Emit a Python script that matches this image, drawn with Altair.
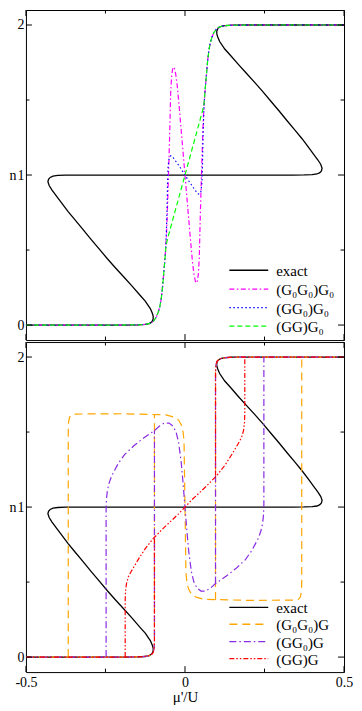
import altair as alt
import pandas as pd

FONT = "Liberation Serif, Times New Roman, serif"
W, H = 319, 331

# ---------------- tick values ----------------
y_major_ticks = [0, 1, 2]
y_minor_ticks = [0.5, 1.5]
x_major_ticks = [-0.5, 0.0, 0.5]
x_minor_ticks = [-0.25, 0.25]
y_labels = [0, 1, 2]
x_labels = [-0.5, 0.0, 0.5]

# ---------------- exact (both panels) ----------------
exact_mu = [-0.5, -0.2, -0.15, -0.125, -0.112, -0.104, -0.1, -0.1, -0.103, -0.109, -0.125,
            -0.142, -0.167, -0.193, -0.219, -0.244, -0.27, -0.296, -0.321, -0.347, -0.368,
            -0.388, -0.404, -0.418, -0.427, -0.431, -0.429, -0.424, -0.415, -0.4, -0.375, -0.34,
            0.34, 0.375, 0.4, 0.415, 0.424, 0.429, 0.431, 0.427, 0.418, 0.404, 0.388, 0.368,
            0.347, 0.321, 0.296, 0.27, 0.244, 0.219, 0.193, 0.167, 0.142, 0.125, 0.109, 0.103,
            0.1, 0.1, 0.104, 0.112, 0.125, 0.15, 0.2, 0.5]
exact_n = [0.0, 0.0, 0.001, 0.004, 0.01, 0.022, 0.04, 0.06, 0.08, 0.11, 0.16,
           0.2, 0.261, 0.322, 0.382, 0.442, 0.508, 0.573, 0.638, 0.704, 0.758,
           0.814, 0.86, 0.9, 0.93, 0.955, 0.972, 0.984, 0.993, 0.997, 0.999, 1.0,
           1.0, 1.001, 1.003, 1.007, 1.016, 1.028, 1.045, 1.07, 1.1, 1.14, 1.186, 1.242,
           1.296, 1.362, 1.427, 1.492, 1.558, 1.618, 1.678, 1.739, 1.8, 1.84, 1.89, 1.92,
           1.94, 1.96, 1.978, 1.99, 1.996, 1.999, 2.0, 2.0]

# ---------------- top panel ----------------
g0g0g0_mu = [-0.5, -0.2, -0.14, -0.12, -0.108, -0.099, -0.091, -0.085, -0.08, -0.075, -0.071,
             -0.067, -0.063, -0.06, -0.057, -0.054, -0.051, -0.048, -0.045, -0.042, -0.039,
             -0.036, -0.033, -0.029, -0.024, -0.018, -0.012, -0.006, 0.0, 0.006, 0.012, 0.018,
             0.024, 0.029, 0.033, 0.036, 0.039, 0.042, 0.045, 0.048, 0.051, 0.054, 0.057, 0.06,
             0.063, 0.067, 0.071, 0.075, 0.08, 0.085, 0.091, 0.099, 0.108, 0.12, 0.14, 0.2, 0.5]
g0g0g0_n = [0.0, 0.0, 0.002, 0.006, 0.013, 0.026, 0.05, 0.08, 0.114, 0.17, 0.245,
            0.34, 0.44, 0.53, 0.66, 0.85, 1.06, 1.28, 1.55, 1.66, 1.705,
            1.72, 1.71, 1.67, 1.59, 1.45, 1.3, 1.15, 1.0, 0.85, 0.7, 0.55,
            0.41, 0.33, 0.29, 0.28, 0.295, 0.34, 0.45, 0.72, 0.94, 1.15, 1.34, 1.47,
            1.56, 1.66, 1.755, 1.83, 1.886, 1.92, 1.95, 1.974, 1.987, 1.994, 1.998, 2.0, 2.0]

gg0g0_mu = [-0.5, -0.2, -0.14, -0.12, -0.108, -0.099, -0.091, -0.085, -0.08, -0.075, -0.071,
            -0.067, -0.063, -0.06, -0.057, -0.055, -0.053, -0.05, -0.045, -0.04, -0.03, -0.015,
            0.0, 0.015, 0.03, 0.04, 0.045, 0.05, 0.053, 0.055, 0.057, 0.06, 0.063, 0.067, 0.071,
            0.075, 0.08, 0.085, 0.091, 0.099, 0.108, 0.12, 0.14, 0.2, 0.5]
gg0g0_n = [0.0, 0.0, 0.002, 0.006, 0.013, 0.026, 0.05, 0.08, 0.114, 0.17, 0.245,
           0.34, 0.44, 0.53, 0.72, 0.93, 1.06, 1.11, 1.128, 1.125, 1.095, 1.05,
           1.0, 0.95, 0.905, 0.875, 0.872, 0.89, 0.94, 1.07, 1.28, 1.47, 1.56, 1.66, 1.755,
           1.83, 1.886, 1.92, 1.95, 1.974, 1.987, 1.994, 1.998, 2.0, 2.0]

ggg0_mu = [-0.5, -0.2, -0.14, -0.12, -0.108, -0.099, -0.091, -0.085, -0.08, -0.075, -0.071,
           -0.067, -0.063, -0.06, -0.056, -0.04, -0.02, 0.0, 0.02, 0.04, 0.056, 0.06, 0.063,
           0.067, 0.071, 0.075, 0.08, 0.085, 0.091, 0.099, 0.108, 0.12, 0.14, 0.2, 0.5]
ggg0_n = [0.0, 0.0, 0.002, 0.006, 0.013, 0.026, 0.05, 0.08, 0.114, 0.17, 0.245,
          0.34, 0.44, 0.52, 0.565, 0.69, 0.845, 1.0, 1.155, 1.31, 1.435, 1.48, 1.56,
          1.66, 1.755, 1.83, 1.886, 1.92, 1.95, 1.974, 1.987, 1.994, 1.998, 2.0, 2.0]

# ---------------- bottom panel ----------------
rise_mu = [-0.5, -0.2, -0.14, -0.12, -0.108, -0.1, -0.097, -0.096]
rise_n = [0.0, 0.0, 0.002, 0.006, 0.013, 0.03, 0.06, 0.1]
top_mu = [0.096, 0.097, 0.1, 0.108, 0.12, 0.14, 0.2, 0.5]
top_n = [1.9, 1.94, 1.97, 1.987, 1.994, 1.998, 2.0, 2.0]

g0g0g_a_mu = rise_mu + [-0.096]
g0g0g_a_n = rise_n + [1.62]
g0g0g_b_mu = [-0.367, -0.367, -0.366, -0.363, -0.357, -0.345, -0.2, -0.06, -0.035, -0.02,
              -0.011, -0.006, -0.003, 0.0, 0.003, 0.006, 0.011, 0.02, 0.035, 0.06, 0.2,
              0.345, 0.357, 0.363, 0.366, 0.367, 0.367]
g0g0g_b_n = [0.0, 1.5, 1.565, 1.598, 1.615, 1.62, 1.622, 1.615, 1.6, 1.58,
             1.545, 1.5, 1.44, 1.0, 0.56, 0.5, 0.455, 0.42, 0.4, 0.385, 0.378,
             0.38, 0.385, 0.402, 0.435, 0.5, 2.0]
g0g0g_c_mu = [0.096] + top_mu
g0g0g_c_n = [0.38] + top_n

gg0g_a_mu = rise_mu + [-0.096]
gg0g_a_n = rise_n + [1.51]
gg0g_b_mu = [-0.248, -0.248, -0.247, -0.244, -0.238, -0.23, -0.21, -0.19, -0.16, -0.13,
             -0.096, -0.08, -0.065, -0.05, -0.038, -0.028, -0.02, -0.012, -0.006, 0.0,
             0.006, 0.012, 0.02, 0.028, 0.038, 0.05, 0.065, 0.08, 0.096, 0.13, 0.16, 0.19,
             0.21, 0.23, 0.238, 0.244, 0.247, 0.248, 0.248]
gg0g_b_n = [0.0, 0.98, 1.05, 1.11, 1.165, 1.21, 1.29, 1.35, 1.41, 1.46,
            1.51, 1.54, 1.56, 1.56, 1.54, 1.5, 1.43, 1.3, 1.16, 1.0,
            0.84, 0.7, 0.57, 0.5, 0.46, 0.44, 0.44, 0.46, 0.49, 0.54, 0.59, 0.65,
            0.71, 0.79, 0.835, 0.89, 0.95, 1.02, 2.0]
gg0g_c_mu = [0.096] + top_mu
gg0g_c_n = [0.49] + top_n

ggg_a_mu = rise_mu + [-0.096]
ggg_a_n = rise_n + [0.79]
ggg_b_mu = [-0.188, -0.188, -0.187, -0.184, -0.178, -0.168, -0.15, -0.126, -0.1, -0.07,
            -0.045, -0.02, 0.0, 0.02, 0.045, 0.07, 0.1, 0.126, 0.15, 0.168, 0.178, 0.184,
            0.187, 0.188, 0.188]
ggg_b_n = [0.0, 0.38, 0.44, 0.49, 0.535, 0.575, 0.64, 0.72, 0.79, 0.855,
           0.905, 0.955, 1.0, 1.045, 1.095, 1.145, 1.21, 1.28, 1.36, 1.425, 1.465, 1.51,
           1.56, 1.62, 2.0]
ggg_c_mu = [0.096] + top_mu
ggg_c_n = [1.21] + top_n

# ---------------- legend labels ----------------
top_labels = ["exact", "(G\u2080G\u2080)G\u2080", "(GG\u2080)G\u2080", "(GG)G\u2080"]
bot_labels = ["exact", "(G\u2080G\u2080)G", "(GG\u2080)G", "(GG)G"]

# ---------------- styles ----------------
BLACK = "#000000"
MAGENTA = "#ff00ff"
BLUE = "#0000ff"
GREEN = "#00ff00"
ORANGE = "#ffa500"
VIOLET = "#8a2be2"
RED = "#ff0000"
D_MAG = [5, 2.5, 1.5, 2.5]
D_BLUE = [1.5, 2.5]
D_GREEN = [5, 3]
D_ORANGE = [8, 5]
D_VIOLET = [7, 3, 1.5, 3]
D_RED = [5, 2, 1.5, 2, 1.5, 2]

xs = alt.Scale(domain=[-0.5, 0.5], nice=False, zero=False)
ys = alt.Scale(domain=[-0.1, 2.1], nice=False, zero=False)

y_axis = alt.Axis(values=y_labels, format="d", ticks=False, domain=False, grid=False,
                  labelFont=FONT, labelFontSize=14, labelColor="black", labelPadding=2,
                  title="n", titleFont=FONT, titleFontSize=14, titleFontWeight="normal",
                  titleColor="black", titleAngle=0, titleAlign="right",
                  titleBaseline="middle", titlePadding=1)
x_axis = alt.Axis(values=x_labels, labelExpr="datum.value == 0 ? '0' : '' + datum.value",
                  ticks=False, domain=False, grid=False, labelFlush=False,
                  labelFont=FONT, labelFontSize=14, labelColor="black", labelPadding=3,
                  title="\u03bc'/U", titleFont=FONT, titleFontSize=15,
                  titleFontWeight="normal", titleColor="black", titlePadding=0)


def curve(mu, n, color, dash, width, xaxis, yaxis):
    kw = dict(color=color, strokeWidth=width, clip=True)
    if dash:
        kw["strokeDash"] = dash
    df = pd.DataFrame({"mu": mu, "n": n, "i": list(range(len(mu)))})
    return alt.Chart(df).mark_line(**kw).encode(
        x=alt.X("mu:Q", scale=xs, axis=xaxis, title="\u03bc'/U"),
        y=alt.Y("n:Q", scale=ys, axis=yaxis, title="n"),
        order="i:Q",
    )


def ticks(xaxis, yaxis):
    layers = []
    for vals, L in ((y_major_ticks, 6), (y_minor_ticks, 3.5)):
        df = pd.DataFrame({"n": vals})
        for x1, x2 in ((0, L), (W, W - L)):
            layers.append(alt.Chart(df).mark_rule(color="black", strokeWidth=1).encode(
                y=alt.Y("n:Q", scale=ys, axis=yaxis, title="n"),
                x=alt.value(x1), x2=alt.value(x2)))
    for vals, L in ((x_major_ticks, 6), (x_minor_ticks, 3.5)):
        df = pd.DataFrame({"mu": vals})
        for y1, y2 in ((0, L), (H, H - L)):
            layers.append(alt.Chart(df).mark_rule(color="black", strokeWidth=1).encode(
                x=alt.X("mu:Q", scale=xs, axis=xaxis, title="\u03bc'/U"),
                y=alt.value(y1), y2=alt.value(y2)))
    return layers


def legend(labels, colors, dashes, ys_px):
    layers = []
    one = pd.DataFrame({"k": [0]})
    for lab, col, dash, yy in zip(labels, colors, dashes, ys_px):
        kw = dict(color=col, strokeWidth=1.3)
        if dash:
            kw["strokeDash"] = dash
        layers.append(alt.Chart(one).mark_rule(**kw).encode(
            x=alt.value(204), x2=alt.value(243), y=alt.value(yy)))
        layers.append(alt.Chart(one).mark_text(
            font=FONT, fontSize=15, color="black", align="left", baseline="middle").encode(
            x=alt.value(251), y=alt.value(yy + 1), text=alt.value(lab)))
    return layers


def panel(series, labels, colors, dashes, leg_y, xaxis):
    layers = [curve(mu, n, c, d, w, xaxis, y_axis) for (mu, n, c, d, w) in series]
    layers += ticks(xaxis, y_axis)
    layers += legend(labels, colors, dashes, leg_y)
    return alt.layer(*layers).properties(width=W, height=H)


top = panel(
    [(exact_mu, exact_n, BLACK, None, 1.3),
     (g0g0g0_mu, g0g0g0_n, MAGENTA, D_MAG, 1.2),
     (gg0g0_mu, gg0g0_n, BLUE, D_BLUE, 1.2),
     (ggg0_mu, ggg0_n, GREEN, D_GREEN, 1.2)],
    top_labels, [BLACK, MAGENTA, BLUE, GREEN], [None, D_MAG, D_BLUE, D_GREEN],
    [261, 280, 298.5, 317], None)

bottom = panel(
    [(exact_mu, exact_n, BLACK, None, 1.3),
     (g0g0g_a_mu, g0g0g_a_n, ORANGE, D_ORANGE, 1.2),
     (g0g0g_b_mu, g0g0g_b_n, ORANGE, D_ORANGE, 1.2),
     (g0g0g_c_mu, g0g0g_c_n, ORANGE, D_ORANGE, 1.2),
     (gg0g_a_mu, gg0g_a_n, VIOLET, D_VIOLET, 1.2),
     (gg0g_b_mu, gg0g_b_n, VIOLET, D_VIOLET, 1.2),
     (gg0g_c_mu, gg0g_c_n, VIOLET, D_VIOLET, 1.2),
     (ggg_a_mu, ggg_a_n, RED, D_RED, 1.2),
     (ggg_b_mu, ggg_b_n, RED, D_RED, 1.2),
     (ggg_c_mu, ggg_c_n, RED, D_RED, 1.2)],
    bot_labels, [BLACK, ORANGE, VIOLET, RED], [None, D_ORANGE, D_VIOLET, D_RED],
    [266, 283, 300.5, 317.5], x_axis)

chart = alt.vconcat(top, bottom, spacing=0).properties(
    padding={"left": 0, "top": 0, "right": 0, "bottom": 0},
    background="white",
).configure_view(stroke="black", strokeWidth=1)

chart.save("out.html", embed_options={"renderer": "svg", "actions": False})
